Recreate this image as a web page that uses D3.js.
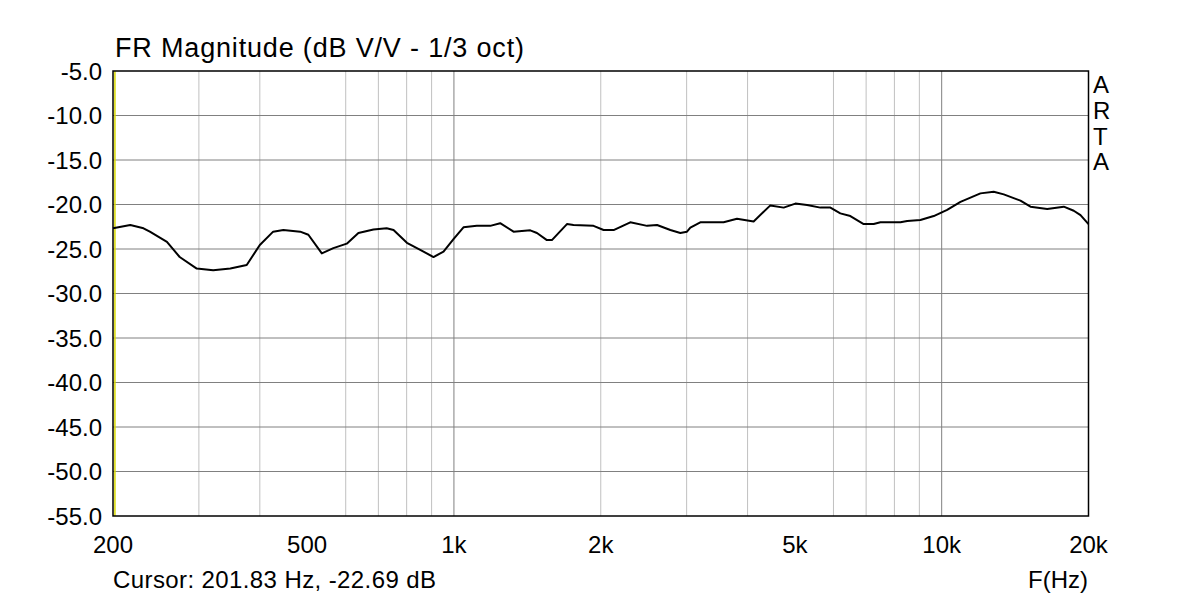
<!DOCTYPE html>
<html><head><meta charset="utf-8">
<script src="https://cdn.jsdelivr.net/npm/d3@7"></script>
<style>body{margin:0;background:#fff;} svg{display:block;} text{font-family:"Liberation Sans",Arial,sans-serif;fill:#000;}</style>
</head><body><svg id="c" width="1200" height="600"></svg>
<script>
const freqs = [200,217,231,238,258,274,297,321,348,376,400,426,447,484,503,536,566,603,637,684,728,752,801,853,908,952,998,1046,1114,1187,1244,1325,1434,1480,1551,1588,1705,1759,1933,2027,2125,2299,2489,2609,2778,2912,3005,3053,3200,3572,3805,4116,4454,4743,5012,5297,5640,5914,6198,6498,6920,7255,7488,8233,8497,9044,9632,10262,10928,12008,12786,13406,14506,15208,16458,17796,18656,19260,20000];
const mags = [-22.67,-22.3,-22.67,-23.05,-24.2,-25.9,-27.2,-27.4,-27.2,-26.8,-24.55,-23.05,-22.87,-23.05,-23.4,-25.5,-24.9,-24.4,-23.2,-22.8,-22.67,-22.87,-24.3,-25.1,-25.9,-25.3,-23.9,-22.56,-22.4,-22.4,-22.1,-23.05,-22.9,-23.2,-24.0,-24.0,-22.2,-22.3,-22.4,-22.87,-22.87,-22.0,-22.4,-22.3,-22.87,-23.2,-23.05,-22.6,-22.0,-22.0,-21.6,-21.9,-20.1,-20.35,-19.9,-20.05,-20.35,-20.35,-21.0,-21.3,-22.2,-22.2,-22.0,-22.0,-21.85,-21.74,-21.3,-20.6,-19.7,-18.75,-18.56,-18.86,-19.57,-20.24,-20.5,-20.24,-20.7,-21.2,-22.2];
const yTicks = [-5,-10,-15,-20,-25,-30,-35,-40,-45,-50,-55];
const xTickVals = [200,500,1000,2000,5000,10000,20000];
const xTickLabels = ["200","500","1k","2k","5k","10k","20k"];
const minorFreqs = [300,400,600,700,800,900,2000,3000,4000,6000,7000,8000,9000];
const majorFreqs = [1000,10000];
const cursorFreq = 201.83;
const title = "FR Magnitude (dB V/V - 1/3 oct)";
const cursorText = "Cursor: 201.83 Hz, -22.69 dB";
const xAxisTitle = "F(Hz)";
const brand = ["A","R","T","A"];

const L=113, R=1088.5, T=71, B=516;
const svg = d3.select("#c");
const x = d3.scaleLog().domain([200,20000]).range([L,R]);
const y = d3.scaleLinear().domain([-55,-5]).range([B,T]);

// grid
svg.append("g").selectAll("line").data(minorFreqs).join("line")
  .attr("x1",d=>x(d)).attr("x2",d=>x(d)).attr("y1",T).attr("y2",B)
  .attr("stroke","#c0c0c0").attr("stroke-width",1);
svg.append("g").selectAll("line").data(majorFreqs).join("line")
  .attr("x1",d=>x(d)).attr("x2",d=>x(d)).attr("y1",T).attr("y2",B)
  .attr("stroke","#808080").attr("stroke-width",1);
svg.append("g").selectAll("line").data(yTicks.slice(1,-1)).join("line")
  .attr("x1",L).attr("x2",R).attr("y1",d=>y(d)).attr("y2",d=>y(d))
  .attr("stroke","#808080").attr("stroke-width",1);

// cursor
svg.append("line").attr("x1",x(cursorFreq)).attr("x2",x(cursorFreq)).attr("y1",T).attr("y2",B)
  .attr("stroke","#d8d800").attr("stroke-width",1.5);

// curve
svg.append("path").datum(freqs.map((f,i)=>[f,mags[i]]))
  .attr("fill","none").attr("stroke","#000").attr("stroke-width",2).attr("stroke-linejoin","round")
  .attr("d",d3.line().x(d=>x(d[0])).y(d=>y(d[1])));

// border
svg.append("rect").attr("x",L).attr("y",T).attr("width",R-L).attr("height",B-T)
  .attr("fill","none").attr("stroke","#000").attr("stroke-width",1.5);

// y labels
svg.append("g").selectAll("text").data(yTicks).join("text")
  .attr("x",102).attr("y",d=>y(d)+8.5).attr("text-anchor","end").attr("font-size",24)
  .text(d=>d.toFixed(1));
// x labels
svg.append("g").selectAll("text").data(xTickVals).join("text")
  .attr("x",d=>x(d)).attr("y",553).attr("text-anchor","middle").attr("font-size",24)
  .text((d,i)=>xTickLabels[i]);

svg.append("text").attr("x",115).attr("y",57).attr("font-size",27)
  .attr("textLength",409).attr("lengthAdjust","spacing").text(title);
svg.append("text").attr("x",113).attr("y",588).attr("font-size",24)
  .attr("textLength",323).attr("lengthAdjust","spacing").text(cursorText);
svg.append("text").attr("x",1088).attr("y",588).attr("text-anchor","end").attr("font-size",24).text(xAxisTitle);
svg.append("g").selectAll("text").data(brand).join("text")
  .attr("x",1093).attr("y",(d,i)=>93+i*25.8).attr("font-size",24).text(d=>d);
</script></body></html>
